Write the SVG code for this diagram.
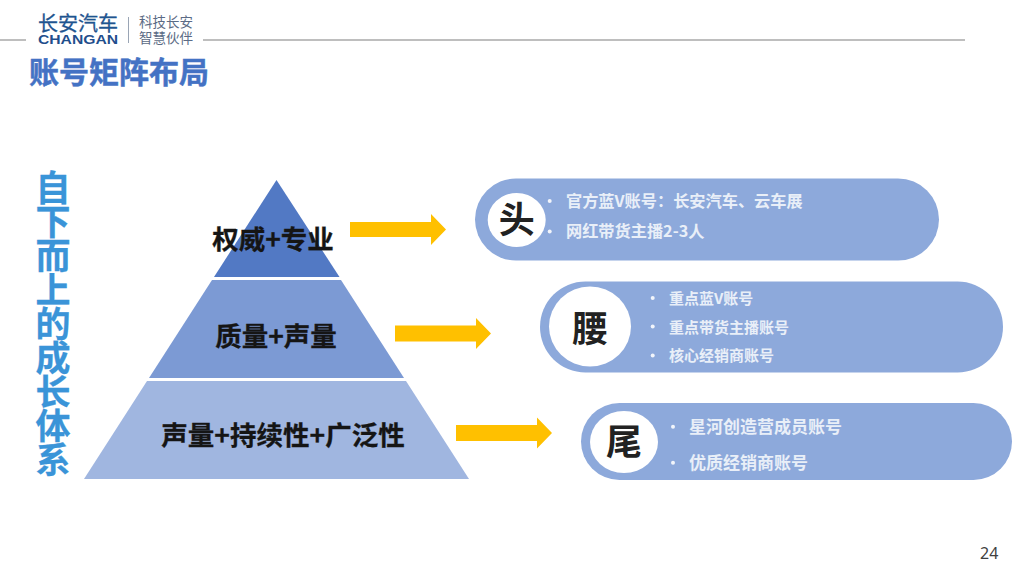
<svg xmlns="http://www.w3.org/2000/svg" width="1024" height="576" viewBox="0 0 1024 576">
<defs>
<style>
text{font-family:"Noto Sans CJK SC","Liberation Sans",sans-serif}
.b{font-weight:700}
.lab{font-size:26.500px;font-weight:700;fill:#151515;text-anchor:middle;stroke:#151515;stroke-width:.3px}
.item{font-weight:700;fill:#e9eff8}
.s16{font-size:16.200px}
.s15{font-size:15px}
.s17{font-size:17px}
.dot{fill:#f2f5fb}
.pill{fill:#8da9db}
.big{font-size:36px;font-weight:700;fill:#222;text-anchor:middle}
.vert{font-size:35px;font-weight:700;fill:#3a94d8;writing-mode:vertical-rl;letter-spacing:-1px;stroke:#3a94d8;stroke-width:.3px}
.arr{fill:#ffc000}
</style>
</defs>
<rect width="1024" height="576" fill="#fff"/>
<g id="header">
<path d="M0 40H26M203 40H965" stroke="#a9a9a9" stroke-width="1.500" fill="none"/>
<text x="38" y="31" font-size="20" fill="#1f5590" stroke="#1f5590" stroke-width=".3" textLength="80" lengthAdjust="spacingAndGlyphs">长安汽车</text>
<text x="38" y="43.500" font-size="12.500" class="b" fill="#1f4e8c" textLength="80" lengthAdjust="spacingAndGlyphs" style="font-family:'Liberation Sans',sans-serif">CHANGAN</text>
<path d="M128.500 17V43" stroke="#9aa5b5" stroke-width="1"/>
<text x="139" y="27" font-size="13.500" fill="#5b6b85">科技长安</text>
<text x="139" y="42.500" font-size="13.500" fill="#5b6b85">智慧伙伴</text>
<text x="29" y="83" font-size="30" class="b" fill="#4472c4" stroke="#4472c4" stroke-width=".5">账号矩阵布局</text>
</g>
<g id="side-title">
<text class="vert" x="53" y="170">自下而上的成长体系</text>
</g>
<g id="tier-top">
<polygon points="276.500,180 339.500,277 214,277" fill="#5279c4"/>
<text class="lab" x="273" y="249">权威+专业</text>
</g>
<g id="tier-middle">
<polygon points="212,280 341,280 404,378 149,378" fill="#7c9ad4"/>
<text class="lab" x="276" y="346">质量+声量</text>
</g>
<g id="tier-bottom">
<polygon points="147,381 406,381 469,479 84,479" fill="#a0b6e0"/>
<text class="lab" x="283" y="445">声量+持续性+广泛性</text>
</g>
<g id="connectors">
<polygon class="arr" points="350,222 431,222 431,214 446,229.500 431,245 431,237 350,237"/>
<polygon class="arr" points="395,325.500 476,325.500 476,318 491,333.500 476,349 476,341.500 395,341.500"/>
<polygon class="arr" points="456,425 537,425 537,417.500 552,433 537,448.500 537,441 456,441"/>
</g>
<g id="node-head">
<rect class="pill" x="475" y="178.500" width="464" height="82" rx="41"/>
<ellipse cx="516.700" cy="220" rx="29" ry="27" fill="#fff"/>
<text class="big" x="516.700" y="233">头</text>
<circle class="dot" cx="549.700" cy="201" r="2"/>
<circle class="dot" cx="549.700" cy="231.500" r="2"/>
<text class="item s16" x="566" y="207">官方蓝V账号：长安汽车、云车展</text>
<text class="item s16" x="566" y="237">网红带货主播2-3人</text>
</g>
<g id="node-waist">
<rect class="pill" x="540" y="281.500" width="463" height="91" rx="45.500"/>
<ellipse cx="590" cy="326.500" rx="41" ry="40" fill="#fff"/>
<text class="big" x="590" y="342">腰</text>
<circle class="dot" cx="652.700" cy="298" r="2"/>
<circle class="dot" cx="652.700" cy="326.500" r="2"/>
<circle class="dot" cx="652.700" cy="355.500" r="2"/>
<text class="item s15" x="669" y="304">重点蓝V账号</text>
<text class="item s15" x="669" y="332.500">重点带货主播账号</text>
<text class="item s15" x="669" y="361">核心经销商账号</text>
</g>
<g id="node-tail">
<rect class="pill" x="581" y="403" width="431" height="77" rx="38.500"/>
<ellipse cx="624" cy="442" rx="34" ry="31" fill="#fff"/>
<text class="big" x="624" y="455">尾</text>
<circle class="dot" cx="673" cy="426.700" r="2"/>
<circle class="dot" cx="673" cy="462.700" r="2"/>
<text class="item s17" x="689" y="433">星河创造营成员账号</text>
<text class="item s17" x="689" y="469">优质经销商账号</text>
</g>
<text id="page-number" x="980" y="559" font-size="16" fill="#404040" style="font-family:'Noto Sans',sans-serif">24</text>
</svg>
